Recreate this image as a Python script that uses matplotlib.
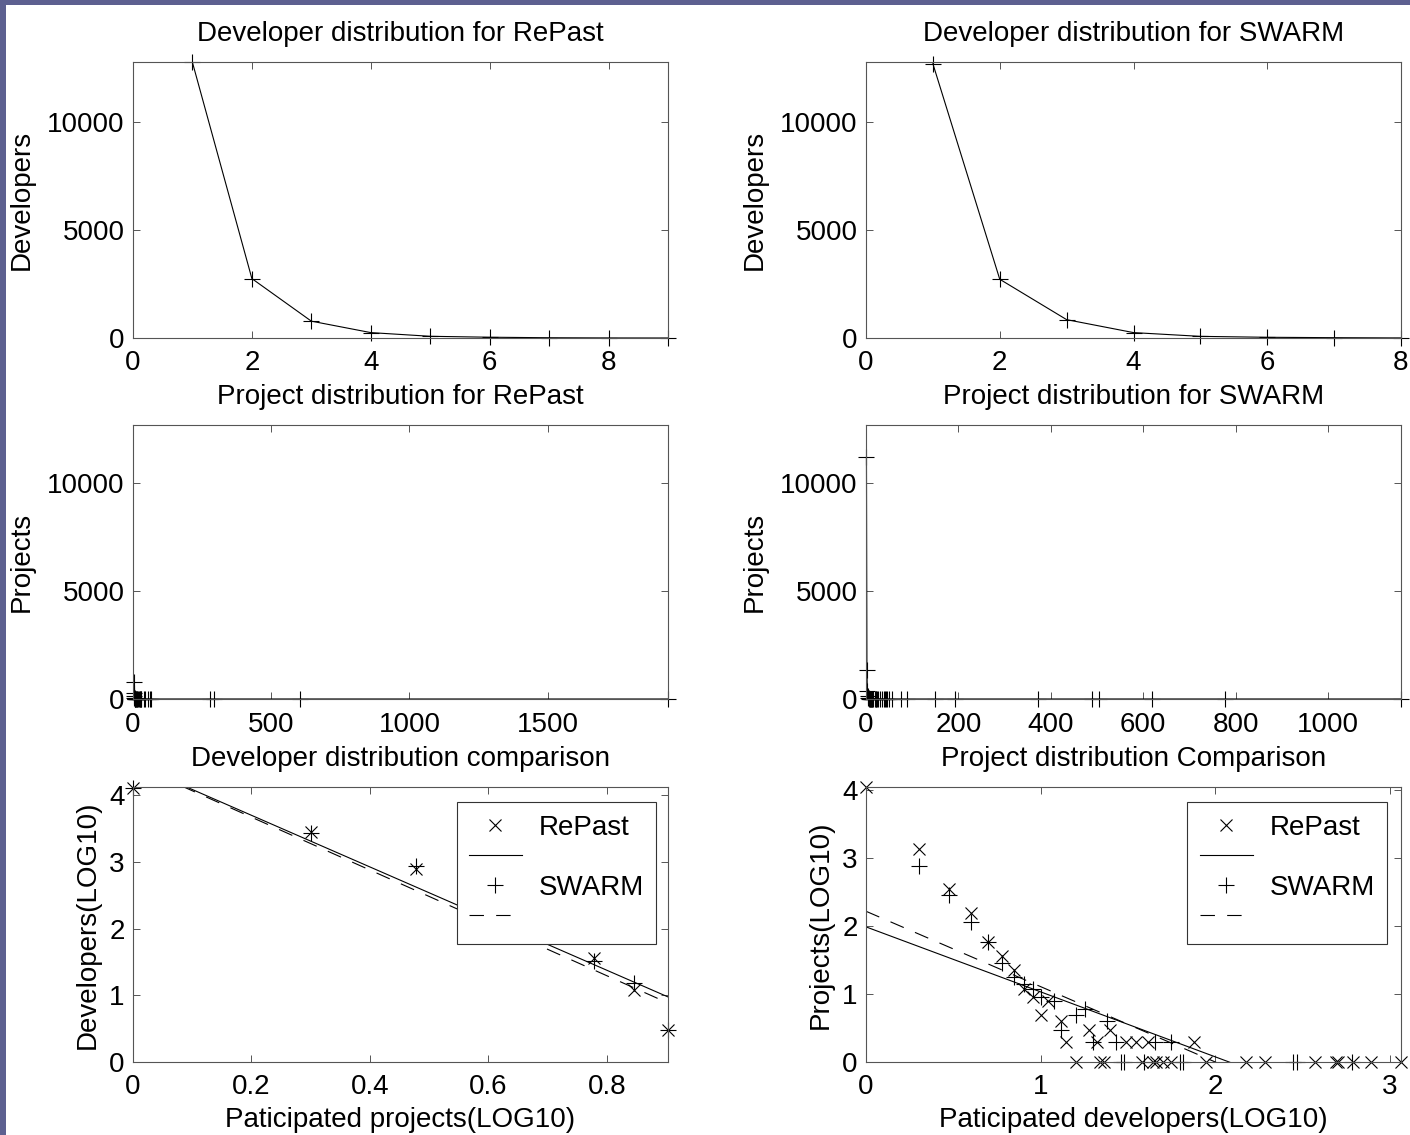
import numpy as np
import matplotlib; matplotlib.use("Agg")
import matplotlib.pyplot as plt
from matplotlib.patches import Rectangle
from matplotlib.ticker import FormatStrFormatter

plt.rcParams['font.family'] = ['Liberation Sans', 'DejaVu Sans']
FS = 20

# top row: developers by number of projects joined
n_proj_repast = [1, 2, 3, 4, 5, 6, 7, 8, 9]
devs_repast = [12760, 2750, 780, 250, 79, 36, 12, 3, 0]
n_proj_swarm = [1, 2, 3, 4, 5, 6, 7, 8]
devs_swarm = [12700, 2720, 850, 250, 76, 33, 15, 3]

# middle row: projects by number of developers
n_dev_a = [2, 3, 4, 5, 6, 7, 8, 9, 10, 12, 13, 16, 18, 20, 24, 27, 29, 30, 39, 45,
           56, 63, 65, 278, 293, 604, 1935]
projs_a = [776, 288, 117, 58, 29, 18, 14, 12, 9, 8, 3, 5, 6, 2, 4, 2, 1, 1, 1, 2,
           2, 1, 1, 1, 1, 1, 0]
n_dev_b = [1, 2, 3, 4, 5, 6, 7, 8, 9, 10, 11, 13, 14, 16, 19, 21, 22, 23, 25, 31,
           35, 38, 41, 44, 46, 50, 56, 76, 89, 150, 193, 372, 490, 505, 619, 776, 1158]
projs_b = [11200, 1350, 350, 155, 58, 36, 23, 12, 9, 5, 8, 4, 2, 1, 3, 2, 1, 1, 3, 2,
           2, 1, 2, 1, 1, 1, 1, 2, 1, 1, 1, 1, 1, 1, 1, 1, 1]

# fitted lines on log-log panels (slope, intercept)
fit_dev_repast = (-3.87, 4.47)
fit_dev_swarm = (-3.96, 4.46)
fit_proj_repast = (-0.957, 1.99)
fit_proj_swarm = (-1.11, 2.22)

W, H = 1410, 1135
fig = plt.figure(figsize=(W / 100, H / 100), dpi=100)
fig.patch.set_facecolor('#5d6090')
fig.patches.append(Rectangle((6 / W, 0), 1, 1 - 5 / H, transform=fig.transFigure,
                             facecolor='white', edgecolor='none', zorder=-1))

def axes_px(l, r, t, b):
    return fig.add_axes([l / W, 1 - b / H, (r - l) / W, (b - t) / H])

def style(ax):
    for s in ax.spines.values():
        s.set_color('#555555'); s.set_linewidth(0.8)
    ax.tick_params(direction='in', top=True, right=True, length=5, width=0.7,
                   color='#555555', labelsize=FS)
    ax.tick_params(axis='x', pad=9)
    ax.tick_params(axis='y', pad=6)
    ax.xaxis.set_major_formatter(FormatStrFormatter('%g'))
    ax.yaxis.set_major_formatter(FormatStrFormatter('%g'))

lk = dict(color='k', lw=0.8, marker='+', ms=12, mew=0.8, clip_on=False)
TP = 15

ax1 = axes_px(133, 668, 62, 338); style(ax1)
ax1.plot(n_proj_repast, devs_repast, **lk)
ax1.set_xlim(0, 9); ax1.set_ylim(0, 12780)
ax1.set_xticks([0, 2, 4, 6, 8]); ax1.set_yticks([0, 5000, 10000])
ax1.set_ylabel('Developers', fontsize=FS, labelpad=9)
ax1.set_title('Developer distribution for RePast', fontsize=FS, pad=TP)

ax2 = axes_px(866, 1401, 62, 338); style(ax2)
ax2.plot(n_proj_swarm, devs_swarm, **lk)
ax2.set_xlim(0, 8); ax2.set_ylim(0, 12780)
ax2.set_xticks([0, 2, 4, 6, 8]); ax2.set_yticks([0, 5000, 10000])
ax2.set_ylabel('Developers', fontsize=FS, labelpad=9)
ax2.set_title('Developer distribution for SWARM', fontsize=FS, pad=TP)

ax3 = axes_px(133, 668, 425, 699); style(ax3)
ax3.plot(n_dev_a, projs_a, **lk)
ax3.set_xlim(0, 1935); ax3.set_ylim(0, 12700)
ax3.set_xticks([0, 500, 1000, 1500]); ax3.set_yticks([0, 5000, 10000])
ax3.set_ylabel('Projects', fontsize=FS, labelpad=9)
ax3.set_title('Project distribution for RePast', fontsize=FS, pad=TP)

ax4 = axes_px(866, 1401, 425, 699); style(ax4)
ax4.plot(n_dev_b, projs_b, **lk)
ax4.set_xlim(0, 1158); ax4.set_ylim(0, 12700)
ax4.set_xticks([0, 200, 400, 600, 800, 1000]); ax4.set_yticks([0, 5000, 10000])
ax4.set_ylabel('Projects', fontsize=FS, labelpad=9)
ax4.set_title('Project distribution for SWARM', fontsize=FS, pad=TP)

DASH = (13, 11)

def loglog_panel(ax, xa, ya, xb, yb, fa, fb, xmax, ymax):
    xa, ya, xb, yb = map(np.asarray, (xa, ya, xb, yb))
    ka, kb = ya > 0, yb > 0
    hx, = ax.plot(np.log10(xa[ka]), np.log10(ya[ka]), 'x', color='k', ms=8.5, mew=0.8, clip_on=False)
    xx = np.array([0, xmax])
    hs, = ax.plot(xx, fa[0] * xx + fa[1], '-', color='k', lw=0.8)
    hp, = ax.plot(np.log10(xb[kb]), np.log10(yb[kb]), '+', color='k', ms=12, mew=0.8, clip_on=False)
    hd, = ax.plot(xx, fb[0] * xx + fb[1], color='k', lw=0.8, dashes=DASH)
    ax.set_xlim(0, xmax); ax.set_ylim(0, ymax)
    ax.set_yticks([0, 1, 2, 3, 4])
    return [hx, hs, hp, hd]

leg_kw = dict(loc='upper right', fontsize=FS, fancybox=False, framealpha=1,
              edgecolor='#333333', handlelength=1.9, handletextpad=0.6,
              labelspacing=0.15, borderpad=0.45, borderaxespad=0)

ax5 = axes_px(133, 668, 787, 1062); style(ax5)
h = loglog_panel(ax5, n_proj_repast, devs_repast, n_proj_swarm, devs_swarm,
                 fit_dev_repast, fit_dev_swarm, np.log10(8), 4.12)
ax5.set_xticks([0, 0.2, 0.4, 0.6, 0.8])
ax5.set_ylabel('Developers(LOG10)', fontsize=FS, labelpad=6)
ax5.set_xlabel('Paticipated projects(LOG10)', fontsize=FS, labelpad=5)
ax5.set_title('Developer distribution comparison', fontsize=FS, pad=TP)
lg = ax5.legend(h, ['RePast', '', 'SWARM', ''], bbox_to_anchor=(0.978, 0.945), **leg_kw)
lg.get_frame().set_linewidth(0.8)

ax6 = axes_px(866, 1401, 787, 1062); style(ax6)
h = loglog_panel(ax6, n_dev_b, projs_b, n_dev_a, projs_a,
                 fit_proj_repast, fit_proj_swarm, np.log10(1158), 4.05)
ax6.set_xticks([0, 1, 2, 3])
ax6.set_ylabel('Projects(LOG10)', fontsize=FS, labelpad=6)
ax6.set_xlabel('Paticipated developers(LOG10)', fontsize=FS, labelpad=5)
ax6.set_title('Project distribution Comparison', fontsize=FS, pad=TP)
lg = ax6.legend(h, ['RePast', '', 'SWARM', ''], bbox_to_anchor=(0.974, 0.945), **leg_kw)
lg.get_frame().set_linewidth(0.8)

fig.savefig('out.png', dpi=100, facecolor=fig.get_facecolor())
